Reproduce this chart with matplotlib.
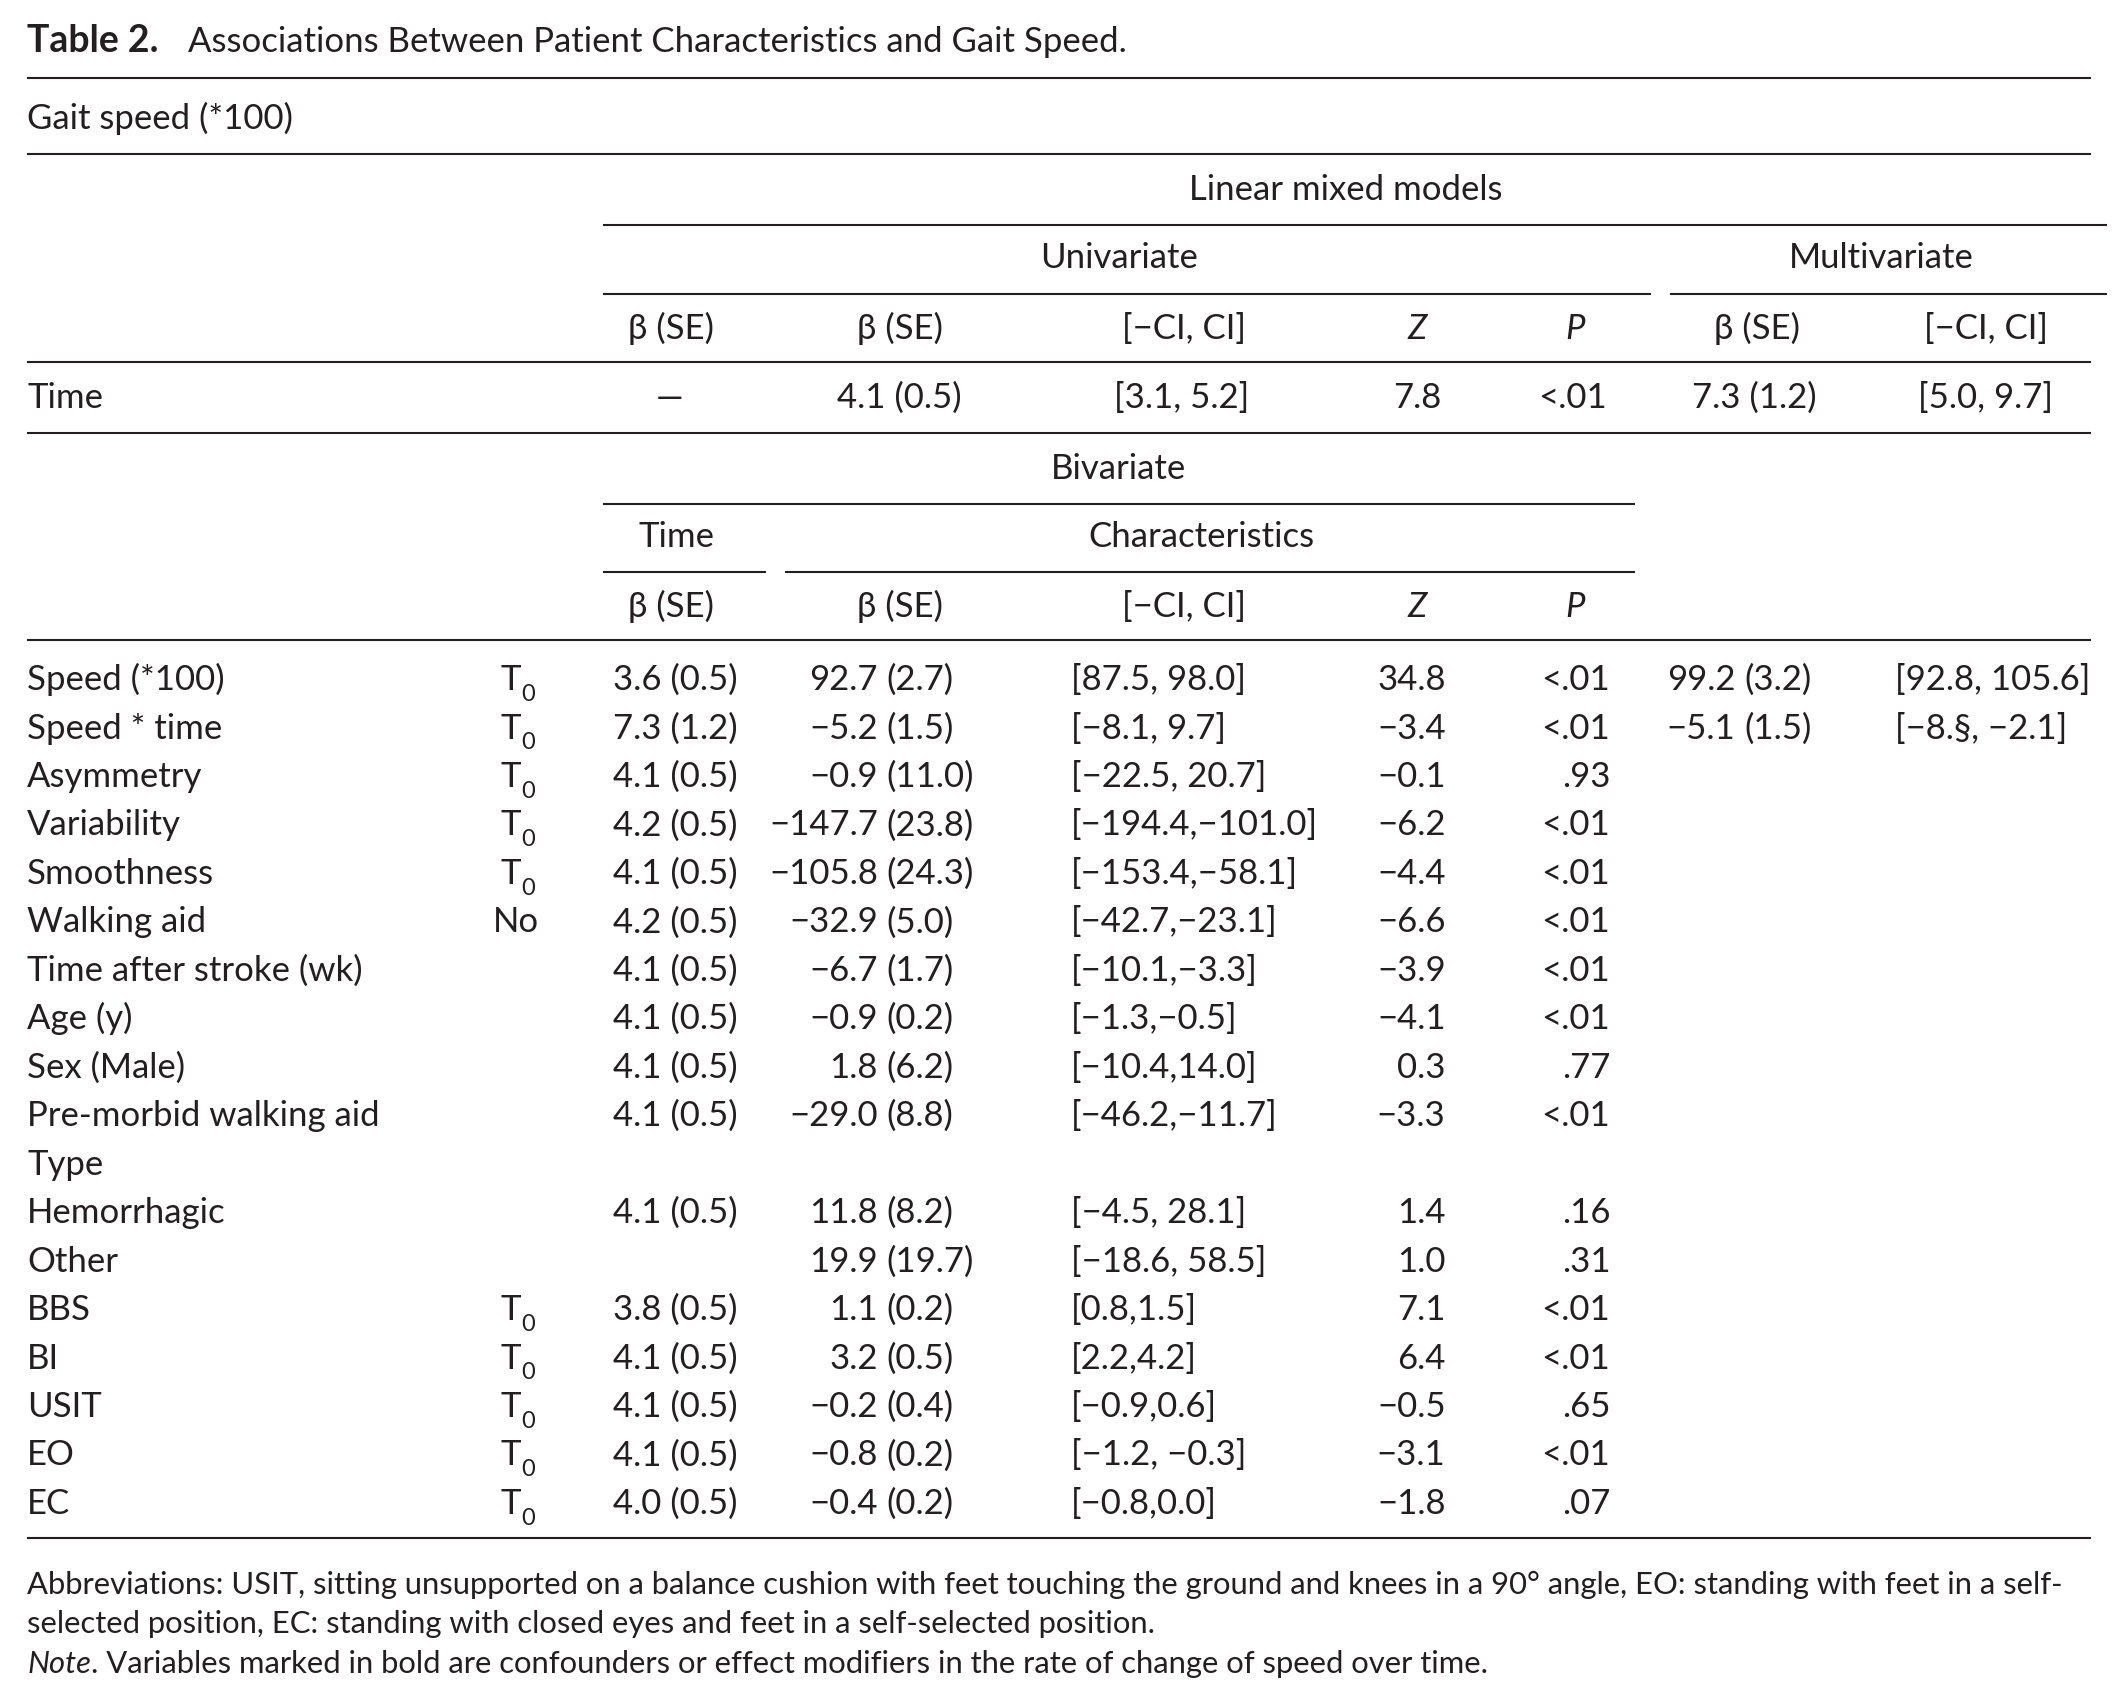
import matplotlib
matplotlib.use("Agg")
import matplotlib.pyplot as plt

plt.rcParams['font.family'] = ['Lato', 'DejaVu Sans']

# ---------------- data ----------------
title_bold = "Table 2."
title_text = "Associations Between Patient Characteristics and Gait Speed."
outcome = "Gait speed (*100)"

uni_header = ["β (SE)", "β (SE)", "[−CI, CI]", "Z", "P"]
multi_header = ["β (SE)", "[−CI, CI]"]
time_row = ["Time", "—", "4.1 (0.5)", "[3.1, 5.2]", "7.8", "<.01", "7.3 (1.2)", "[5.0, 9.7]"]

labels = ["Speed (*100)", "Speed * time", "Asymmetry", "Variability", "Smoothness",
          "Walking aid", "Time after stroke (wk)", "Age (y)", "Sex (Male)",
          "Pre-morbid walking aid", "Type", "Hemorrhagic", "Other", "BBS", "BI",
          "USIT", "EO", "EC"]
ref = ["T0", "T0", "T0", "T0", "T0", "No", "", "", "", "", "", "", "", "T0", "T0", "T0", "T0", "T0"]
time_beta = ["3.6 (0.5)", "7.3 (1.2)", "4.1 (0.5)", "4.2 (0.5)", "4.1 (0.5)", "4.2 (0.5)",
             "4.1 (0.5)", "4.1 (0.5)", "4.1 (0.5)", "4.1 (0.5)", "", "4.1 (0.5)", "",
             "3.8 (0.5)", "4.1 (0.5)", "4.1 (0.5)", "4.1 (0.5)", "4.0 (0.5)"]
char_beta = ["92.7 (2.7)", "−5.2 (1.5)", "−0.9 (11.0)", "−147.7 (23.8)", "−105.8 (24.3)",
             "−32.9 (5.0)", "−6.7 (1.7)", "−0.9 (0.2)", "1.8 (6.2)", "−29.0 (8.8)", "",
             "11.8 (8.2)", "19.9 (19.7)", "1.1 (0.2)", "3.2 (0.5)", "−0.2 (0.4)",
             "−0.8 (0.2)", "−0.4 (0.2)"]
char_ci = ["[87.5, 98.0]", "[−8.1, 9.7]", "[−22.5, 20.7]", "[−194.4,−101.0]", "[−153.4,−58.1]",
           "[−42.7,−23.1]", "[−10.1,−3.3]", "[−1.3,−0.5]", "[−10.4,14.0]", "[−46.2,−11.7]", "",
           "[−4.5, 28.1]", "[−18.6, 58.5]", "[0.8,1.5]", "[2.2,4.2]", "[−0.9,0.6]",
           "[−1.2, −0.3]", "[−0.8,0.0]"]
char_z = ["34.8", "−3.4", "−0.1", "−6.2", "−4.4", "−6.6", "−3.9", "−4.1", "0.3", "−3.3", "",
          "1.4", "1.0", "7.1", "6.4", "−0.5", "−3.1", "−1.8"]
char_p = ["<.01", "<.01", ".93", "<.01", "<.01", "<.01", "<.01", "<.01", ".77", "<.01", "",
          ".16", ".31", "<.01", "<.01", ".65", "<.01", ".07"]
multi_beta = ["99.2 (3.2)", "−5.1 (1.5)"] + [""] * 16
multi_ci = ["[92.8, 105.6]", "[−8.§, −2.1]"] + [""] * 16

foot1 = ("Abbreviations: USIT, sitting unsupported on a balance cushion with feet touching the "
         "ground and knees in a 90° angle, EO: standing with feet in a self-")
foot2 = "selected position, EC: standing with closed eyes and feet in a self-selected position."
foot3_it = "Note"
foot3 = ". Variables marked in bold are confounders or effect modifiers in the rate of change of speed over time."

# ---------------- layout ----------------
W, H = 1556.0, 1242.3
FS = 25
FFS = 22.3
BOFF = 9  # baseline offset from visual centre

fig = plt.figure(figsize=(21.18, 16.91), dpi=100)
ax = fig.add_axes([0, 0, 1, 1])
ax.set_xlim(0, W)
ax.set_ylim(H, 0)
ax.axis('off')
COL = '#231f20'

def t(x, y, s, ha='left', size=FS, **kw):
    if s:
        return ax.text(x, y + BOFF, s, ha=ha, va='baseline', fontsize=size, color=COL, **kw)

def right_end(txt):
    fig.canvas.draw()
    bb = txt.get_window_extent()
    return ax.transData.inverted().transform((bb.x1, bb.y0))[0]

def split_text(x, y, s, gap=6.5):
    if s:
        a, b = s.split(' ', 1)
        t(x, y, a, ha='right')
        t(x + gap, y, b, ha='left')

def rule(x0, x1, y, lw=1.5):
    ax.plot([x0, x1], [y, y], color=COL, lw=lw, solid_capstyle='butt')

L, R = 20, 1536
# title
t(L, 29, title_bold, fontweight='bold', size=FS * 1.08)
t(138, 29, title_text)
rule(L, R, 57)
t(L, 86, outcome)
rule(L, R, 113)
t(989, 138, "Linear mixed models", ha='center')
rule(443, 1548, 165)
t(822, 188, "Univariate", ha='center')
t(1382, 188, "Multivariate", ha='center')
rule(443, 1213, 216)
rule(1227, 1548, 216)

hx = [493, 661, 870, 1041, 1157]
for x, s in zip(hx, uni_header):
    style = 'italic' if s in ("Z", "P") else 'normal'
    t(x, 240, s, ha='center', fontstyle=style)
for x, s in zip([1291, 1459], multi_header):
    t(x, 240, s, ha='center')
rule(L, R, 266)

tx = [L, 492, 661, 868, 1041, 1155, 1289, 1459]
for i, (x, s) in enumerate(zip(tx, time_row)):
    t(x, 291, s, ha='left' if i == 0 else 'center')
rule(L, R, 318)

t(822, 343, "Bivariate", ha='center')
rule(443, 1201, 370)
t(497, 393, "Time", ha='center')
t(883, 393, "Characteristics", ha='center')
rule(443, 563, 420)
rule(577, 1201, 420)
for x, s in zip(hx, uni_header):
    style = 'italic' if s in ("Z", "P") else 'normal'
    t(x, 444, s, ha='center', fontstyle=style)
rule(L, R, 470)

y0, dy = 498, 35.6
for i in range(len(labels)):
    y = y0 + i * dy
    t(L, y, labels[i])
    if ref[i] == "T0":
        t(383, y, "T", ha='right')
        t(383, y + 8, "0", ha='left', size=FS * 0.68)
    else:
        t(379, y, ref[i], ha='center')
    t(496, y, time_beta[i], ha='center')
    split_text(645, y, char_beta[i])
    t(787, y, char_ci[i], ha='left')
    t(1062, y, char_z[i], ha='right')
    t(1183, y, char_p[i], ha='right')
    split_text(1275, y, multi_beta[i])
    t(1392, y, multi_ci[i], ha='left')

rule(L, R, 1130)

t(L, 1162, foot1, size=FFS)
t(L, 1191, foot2, size=FFS)
n = t(L, 1220, foot3_it, size=FFS, fontstyle='italic')
t(right_end(n), 1220, foot3, size=FFS)

fig.savefig("out.png", dpi=100, facecolor='white')
